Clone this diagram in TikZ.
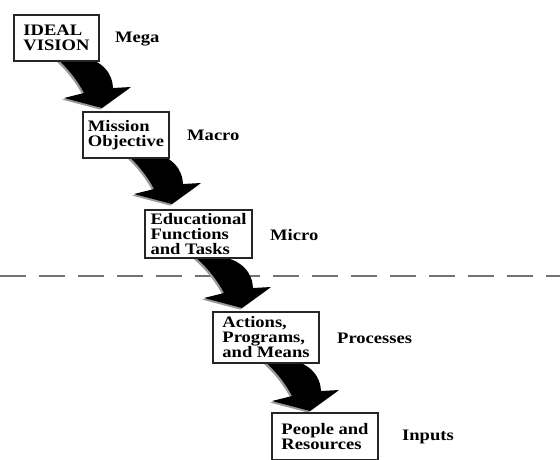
\documentclass[tikz,border=0pt]{standalone}
\usepackage{fontspec}
\setmainfont{Liberation Serif}[FakeStretch=1.16]
\usetikzlibrary{calc}
\pgfdeclarelayer{background}
\pgfsetlayers{background,main}

% outline of the bent block arrow, tip at the origin (y grows downward)
\newcommand\flowoutline{%
  (-47,-51) -- (-30,-52)
  .. controls (-10,-52) and (10,-42) .. (11,-20)
  -- (29,-21) -- (0,0) -- (-38,-10) -- (-18,-15)
  .. controls (-24,-27) and (-35,-41) .. cycle}

\begin{document}
\begin{tikzpicture}[x=1pt,y=-1pt,
  stage/.style={draw=black!85, line width=1.4pt, fill=white, inner sep=0pt,
    outer sep=0pt, align=left, font=\fontsize{16}{15}\selectfont\bfseries},
  level/.style={anchor=west, inner sep=0pt,
    font=\fontsize{16}{15}\selectfont\bfseries},
  divider/.style={draw=black!55, line width=1.3pt, dash pattern=on 26pt off 13pt},
  flow/.pic={
    \begin{scope}[shift={(-1.8,1.6)}]
      \fill[black!40] \flowoutline;
    \end{scope}
    \fill[black] \flowoutline;
  }]

\clip (0,0) rectangle (560,459);

% stages
\node[stage, minimum width=85pt, minimum height=46pt] (b1) at (56.5,38)
  {IDEAL\\VISION};
\node[stage, minimum width=86pt, minimum height=46pt] (b2) at (126,135)
  {Mission\\Objective};
\node[stage, minimum width=107pt, minimum height=48pt] (b3) at (198.5,234)
  {Educational\\Functions\\and Tasks};
\node[stage, minimum width=106pt, minimum height=51pt] (b4) at (266,337.5)
  {Actions,\\Programs,\\and Means};
\node[stage, minimum width=106pt, minimum height=47pt] (b5) at (325,436.5)
  {People and\\Resources};

% level labels
\node[level] (l1) at (115,39) {Mega};
\node[level] (l2) at (187,135) {Macro};
\node[level] (l3) at (270,235) {Micro};
\node[level] (l4) at (337,338) {Processes};
\node[level] (l5) at (402,437) {Inputs};

% divider and arrows behind the boxes
\begin{pgfonlayer}{background}
  \coordinate (dl) at (0,276);
  \coordinate (dr) at (560,276);
  \draw[divider] (dl) -- (dr);
  \pic at ($(b2.north west)+(19,-4)$) {flow};
  \pic at ($(b3.north west)+(27,-6)$) {flow};
  \pic at ($(b4.north west)+(29,-4)$) {flow};
  \pic at ($(b5.north west)+(38,-2)$) {flow};
\end{pgfonlayer}
\end{tikzpicture}
\end{document}
